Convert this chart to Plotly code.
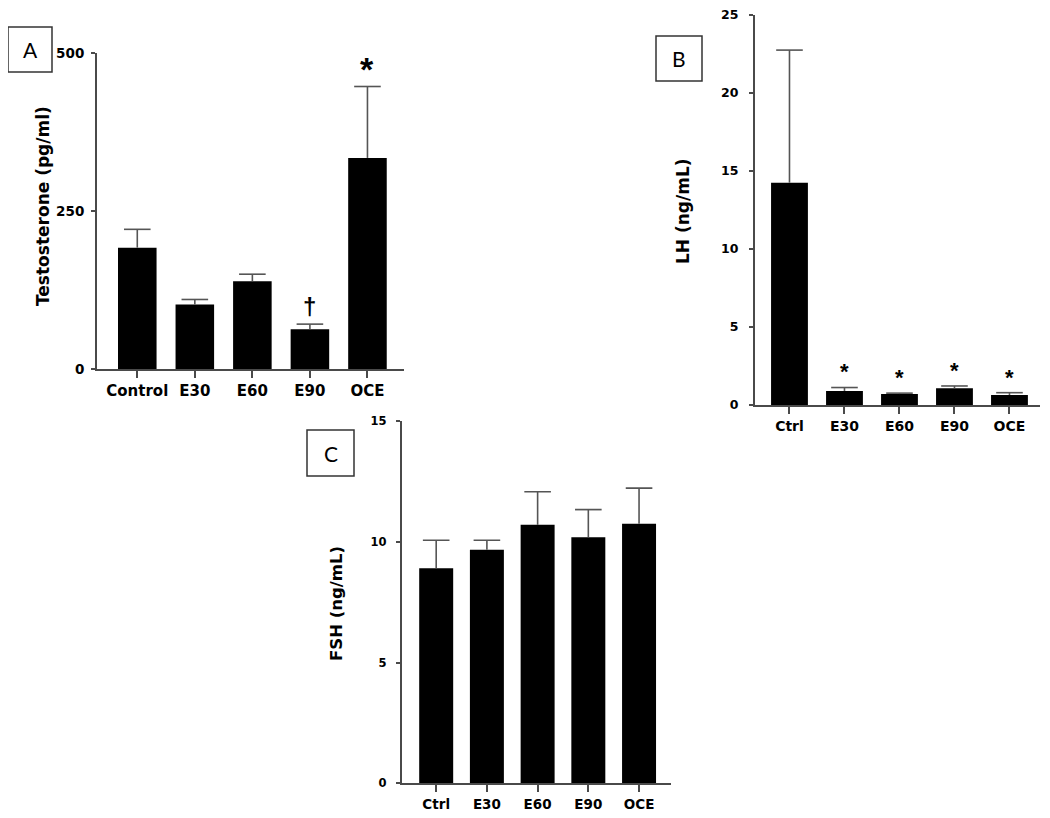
import plotly.graph_objects as go

# Panel A - testosterone
groups_a = ["Control", "E30", "E60", "E90", "OCE"]
testo_mean = [192, 102, 139, 63, 334]
testo_err = [29, 8, 11, 8, 113]
testo_sig = ["", "", "", "†", "*"]

# Panel B - LH
groups_b = ["Ctrl", "E30", "E60", "E90", "OCE"]
lh_mean = [14.25, 0.9, 0.7, 1.07, 0.64]
lh_err = [8.5, 0.22, 0.06, 0.15, 0.15]
lh_sig = ["", "*", "*", "*", "*"]

# Panel C - FSH
groups_c = ["Ctrl", "E30", "E60", "E90", "OCE"]
fsh_mean = [8.9, 9.67, 10.7, 10.19, 10.75]
fsh_err = [1.16, 0.39, 1.37, 1.14, 1.47]

AXIS_COLOR = "#4a4a4a"
ERR_COLOR = "#555555"
TICK_FONT = "DejaVu Sans"
# page body has an 8px margin, keep the figure inside the window
OX, OY = 8, 8
FW, FH = 1034, 802


def px_x(p):
    return (p - OX) / FW


def px_y(p):
    return 1 - (p - OY) / FH


def add_bars(fig, x, y, err, xa, ya):
    fig.add_trace(go.Bar(
        x=x, y=y, xaxis=xa, yaxis=ya, width=0.67,
        marker=dict(color="black", line=dict(width=0)),
        showlegend=False, hoverinfo="skip"))
    # upper error bar only: stem from bar top + cap at the end
    xs, ys = [], []
    for xi, yi, ei in zip(x, y, err):
        xs += [xi, xi, None]
        ys += [yi, yi + ei, None]
    fig.add_trace(go.Scatter(
        x=xs, y=ys, xaxis=xa, yaxis=ya, mode="lines",
        line=dict(color=ERR_COLOR, width=1.6),
        showlegend=False, hoverinfo="skip"))
    fig.add_trace(go.Scatter(
        x=x, y=[yi + ei for yi, ei in zip(y, err)], xaxis=xa, yaxis=ya,
        mode="markers",
        marker=dict(symbol="line-ew", size=19, line=dict(color=ERR_COLOR, width=1.6)),
        showlegend=False, hoverinfo="skip"))


fig = go.Figure()
add_bars(fig, groups_a, testo_mean, testo_err, "x", "y")
add_bars(fig, groups_b, lh_mean, lh_err, "x2", "y2")
add_bars(fig, groups_c, fsh_mean, fsh_err, "x3", "y3")


def xaxis_style(domain, rng, fsize, anchor):
    return dict(domain=domain, anchor=anchor, type="category", range=rng,
                automargin=False,
                showline=True, linecolor=AXIS_COLOR, linewidth=2,
                ticks="outside", ticklen=7, tickwidth=1.6, tickcolor=AXIS_COLOR,
                tickfont=dict(family=TICK_FONT, size=fsize, color="black", weight="bold"),
                showgrid=False, zeroline=False, fixedrange=True)


def yaxis_style(domain, rng, dtick, fsize, standoff, anchor):
    return dict(domain=domain, anchor=anchor, range=rng, dtick=dtick,
                automargin=False, ticklabeloverflow="allow",
                showline=True, linecolor=AXIS_COLOR, linewidth=2,
                ticks="outside", ticklen=4, tickwidth=1.6, tickcolor=AXIS_COLOR,
                ticklabelstandoff=standoff,
                tickfont=dict(family=TICK_FONT, size=fsize, color="black", weight="bold"),
                showgrid=False, zeroline=False, fixedrange=True)


annotations = []
for i, s in enumerate(testo_sig):
    if s:
        annotations.append(dict(
            x=groups_a[i], y=testo_mean[i] + testo_err[i] + 28, xref="x", yref="y",
            text=s, showarrow=False, yanchor="middle",
            font=dict(family="Liberation Sans", size=34 if s == "*" else 24,
                      color="black", weight="bold")))
for i, s in enumerate(lh_sig):
    if s:
        annotations.append(dict(
            x=groups_b[i], y=lh_mean[i] + lh_err[i] + 1.0, xref="x2", yref="y2",
            text=s, showarrow=False, yanchor="middle",
            font=dict(family="Liberation Sans", size=22, color="black", weight="bold")))

y_titles = [
    ("Testosterone (pg/ml)", 43, 206, 17),
    ("LH (ng/mL)", 683, 211, 17),
    ("FSH (ng/mL)", 336, 604, 16.5),
]
for text, cx, cy, fs in y_titles:
    annotations.append(dict(
        x=px_x(cx), y=px_y(cy), xref="paper", yref="paper", text=text,
        textangle=-90, showarrow=False, xanchor="center", yanchor="middle",
        font=dict(family=TICK_FONT, size=fs, color="black", weight="bold")))

# panel letters in boxes
boxes = [("A", 8, 27, 52, 72), ("B", 656, 36, 702, 81), ("C", 307, 430, 354, 476)]
shapes = []
for letter, x0, y0, x1, y1 in boxes:
    shapes.append(dict(type="rect", xref="paper", yref="paper",
                       x0=px_x(x0), x1=px_x(x1), y0=px_y(y1), y1=px_y(y0),
                       line=dict(color="#333333", width=1.5), fillcolor="white"))
    annotations.append(dict(
        x=px_x((x0 + x1) / 2), y=px_y((y0 + y1) / 2), xref="paper", yref="paper",
        text=letter, showarrow=False, xanchor="center", yanchor="middle",
        font=dict(family="Lato", size=21, color="black")))

fig.update_layout(
    width=FW, height=FH,
    margin=dict(l=0, r=0, t=0, b=0, autoexpand=False),
    paper_bgcolor="white", plot_bgcolor="white",
    showlegend=False,
    xaxis=xaxis_style([px_x(97), px_x(404)], [-0.70, 4.635], 15, "y"),
    yaxis=yaxis_style([px_y(369), px_y(53)], [0, 500], 250, 13.5, 4, "x"),
    xaxis2=xaxis_style([px_x(755), px_x(1040)], [-0.627, 4.555], 14, "y2"),
    yaxis2=yaxis_style([px_y(405), px_y(15)], [0, 25], 5, 12.5, 8, "x2"),
    xaxis3=xaxis_style([px_x(401.7), px_x(671)], [-0.68, 4.63], 13.5, "y3"),
    yaxis3=yaxis_style([px_y(783.3), px_y(421)], [0, 15], 5, 11.5, 7, "x3"),
    annotations=annotations,
    shapes=shapes,
)

fig.write_html("out.html")
